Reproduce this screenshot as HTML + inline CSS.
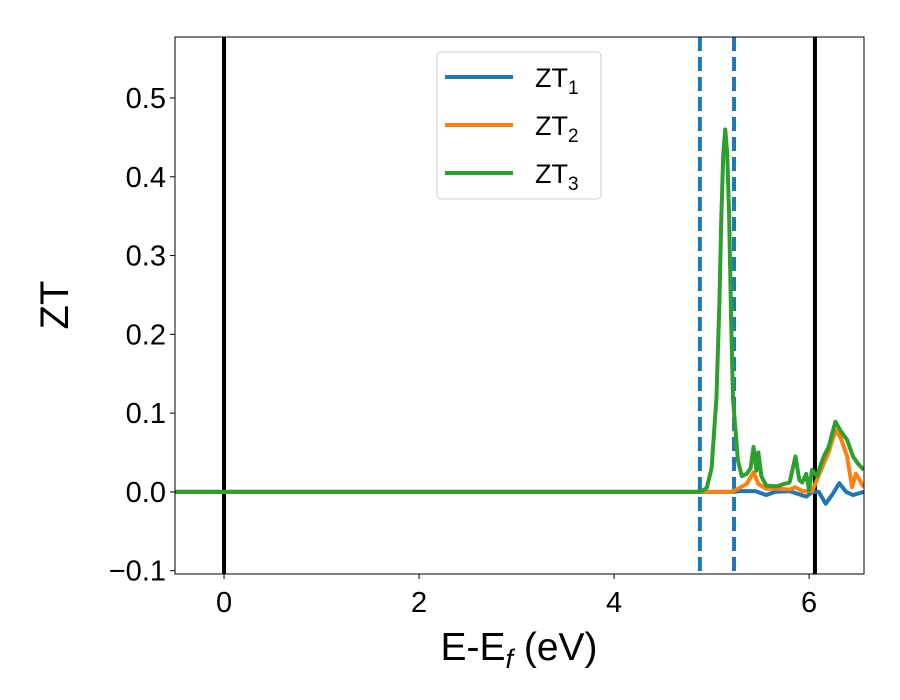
<!DOCTYPE html>
<html><head><meta charset="utf-8"><style>
body{margin:0;background:#fff;}
svg{display:block;font-family:"Liberation Sans","DejaVu Sans",sans-serif;}
</style></head><body>
<svg width="900" height="700" xmlns="http://www.w3.org/2000/svg">
<defs><clipPath id="clip"><rect x="175" y="37" width="689" height="537"/></clipPath></defs>
<g id="vlines" clip-path="url(#clip)"></g>
<g id="series" clip-path="url(#clip)"></g>
<rect x="175" y="37" width="689" height="537" fill="none" stroke="#000" stroke-width="1"/>
<g id="xticks"></g>
<g id="yticks"></g>
<text x="519" y="660" font-size="39" text-anchor="middle">E-E<tspan font-size="27" dy="8" font-style="italic">f</tspan><tspan dy="-8"> (eV)</tspan></text>
<text transform="translate(68,305) rotate(-90)" font-size="40" text-anchor="middle">ZT</text>
<g>
<rect x="437" y="52" width="164" height="147" rx="4" fill="#fff" fill-opacity="0.8" stroke="#ccc"/>
<g><line x1="445" y1="77" x2="513" y2="77" stroke="#1f77b4" stroke-width="4"/><text x="535" y="87" font-size="27">ZT<tspan font-size="19" dy="7">1</tspan></text></g>
<g><line x1="445" y1="125" x2="513" y2="125" stroke="#ff7f0e" stroke-width="4"/><text x="535" y="135" font-size="27">ZT<tspan font-size="19" dy="7">2</tspan></text></g>
<g><line x1="445" y1="173" x2="513" y2="173" stroke="#2ca02c" stroke-width="4"/><text x="535" y="183" font-size="27">ZT<tspan font-size="19" dy="7">3</tspan></text></g>
</g>
</svg>
<script>
const xTicks=[0,2,4,6];
const yTicks=[-0.1,0.0,0.1,0.2,0.3,0.4,0.5];
const yTickLabels=["\u22120.1","0.0","0.1","0.2","0.3","0.4","0.5"];
const solidLines=[0,6.06];
const dashedLines=[4.88,5.23];
const zt1X=[-0.5,5.2,5.3,5.45,5.56,5.65,5.8,5.97,6.03,6.1,6.17,6.24,6.31,6.38,6.45,6.56];
const zt1Y=[0,0,0.001,0.001,-0.004,0,0.001,-0.006,0,0,-0.015,-0.003,0.011,0,-0.004,0];
const zt2X=[-0.5,5.2,5.27,5.36,5.43,5.48,5.56,5.69,5.8,5.86,5.93,6.03,6.08,6.15,6.2,6.27,6.32,6.39,6.44,6.48,6.56];
const zt2Y=[0,0,0.004,0.01,0.025,0.01,0.004,0.004,0.003,0.006,0.001,0.001,0.015,0.036,0.05,0.078,0.07,0.045,0.006,0.023,0.006];
const zt3X=[-0.5,4.85,4.9,4.95,5.0,5.05,5.08,5.1,5.12,5.14,5.16,5.18,5.2,5.22,5.27,5.31,5.36,5.4,5.43,5.46,5.48,5.51,5.56,5.67,5.74,5.8,5.86,5.9,5.93,5.97,6.0,6.03,6.08,6.15,6.2,6.27,6.32,6.39,6.45,6.5,6.56];
const zt3Y=[0,0,0.001,0.005,0.03,0.12,0.24,0.35,0.43,0.46,0.43,0.35,0.22,0.117,0.04,0.02,0.023,0.03,0.057,0.027,0.05,0.02,0.008,0.007,0.01,0.012,0.045,0.015,0.012,0.023,0.002,0.028,0.02,0.045,0.057,0.089,0.078,0.066,0.045,0.036,0.028];
const X0=175,X1=864,Y0=37,Y1=574,xmin=-0.503,xmax=6.563,ymin=-0.1042,ymax=0.5774;
const sx=v=>X0+(v-xmin)/(xmax-xmin)*(X1-X0);
const sy=v=>Y1-(v-ymin)/(ymax-ymin)*(Y1-Y0);
const NS="http://www.w3.org/2000/svg";
function mk(tag,attrs,parent){const e=document.createElementNS(NS,tag);for(const k in attrs)e.setAttribute(k,attrs[k]);parent.appendChild(e);return e;}
const xg=document.getElementById('xticks'),yg=document.getElementById('yticks'),vg=document.getElementById('vlines'),sg=document.getElementById('series');
xTicks.forEach(t=>{
 const l=mk('line',{x1:sx(t),x2:sx(t),y1:Y1,y2:Y1+5,stroke:'#000'},xg);
 
 
 const tx=mk('text',{x:sx(t),y:Y1+38,'font-size':29,'text-anchor':'middle'},xg);tx.textContent=t;
 
 
});
yTicks.forEach((t,i)=>{
 const l=mk('line',{x1:X0-5,x2:X0,y1:sy(t),y2:sy(t),stroke:'#000'},yg);
 
 
 const tx=mk('text',{x:X0-9,y:sy(t)+10,'font-size':29,'text-anchor':'end'},yg);tx.textContent=yTickLabels[i];
 
 
});
solidLines.forEach(v=>{
 const l=mk('line',{x1:sx(v),x2:sx(v),y1:Y0,y2:Y1,stroke:'#000','stroke-width':4},vg);
 
 
});
dashedLines.forEach(v=>{
 const l=mk('line',{x1:sx(v),x2:sx(v),y1:Y0,y2:Y1,stroke:'#1f77b4','stroke-width':4,'stroke-dasharray':'14 6'},vg);
 
 
});
function series(xs,ys,color,name){
 const p=mk('polyline',{points:xs.map((x,i)=>sx(x)+','+sy(ys[i])).join(' '),fill:'none',stroke:color,'stroke-width':4,'stroke-linejoin':'round'},sg);
 
 
}
series(zt1X,zt1Y,'#1f77b4','series-zt1');
series(zt2X,zt2Y,'#ff7f0e','series-zt2');
series(zt3X,zt3Y,'#2ca02c','series-zt3');
</script>
</body></html>
